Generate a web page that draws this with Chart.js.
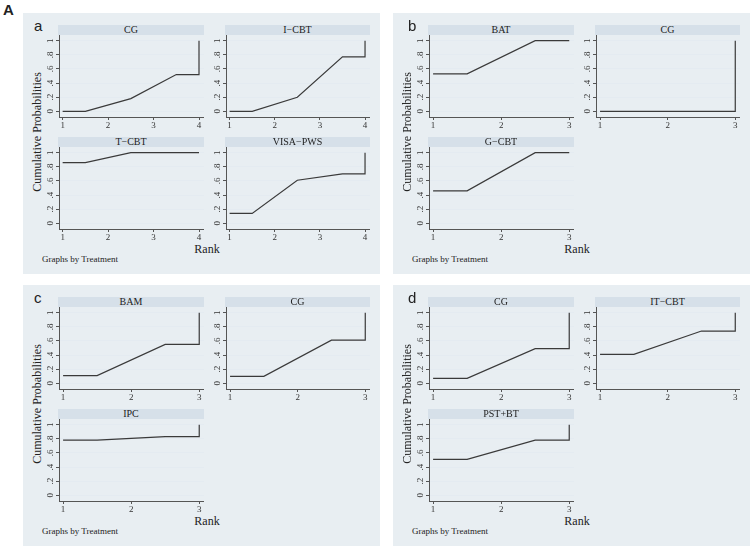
<!DOCTYPE html>
<html>
<head>
<meta charset="utf-8">
<script src="https://cdn.jsdelivr.net/npm/chart.js@4.4.1/dist/chart.umd.min.js"></script>
<style>
body{margin:0;background:#fff;width:753px;height:547px;position:relative;overflow:hidden;font-family:"Liberation Serif",serif;color:#222;}
.panel{position:absolute;background:#e8eef2;width:357px;height:261px;}
.strip{position:absolute;background:#d6e0e9;font-size:10px;line-height:10px;text-align:center;}
.sub{position:absolute;}
.ytitle{position:absolute;left:-86px;top:111px;width:200px;height:16px;line-height:16px;font-size:12px;text-align:center;transform:rotate(-90deg);}
.rank{position:absolute;left:164px;top:228px;width:40px;font-size:12px;line-height:16px;text-align:center;}
.byline{position:absolute;left:19px;top:240px;font-size:9px;line-height:12px;}
.letter{position:absolute;top:4px;font-family:"Liberation Sans",sans-serif;font-size:15px;line-height:18px;}
.bigA{position:absolute;left:3px;top:1px;font-family:"Liberation Sans",sans-serif;font-weight:bold;font-size:15px;line-height:18px;}
</style>
</head>
<body>
<div class="bigA">A</div>
<script>
// cumulative ranking probabilities (rank 1 .. n)
const ranks4 = [1, 2, 3, 4];
const ranks3 = [1, 2, 3];
const yTicks = [0, 0.2, 0.4, 0.6, 0.8, 1];

const namesA = ['CG', 'I\u2212CBT', 'T\u2212CBT', 'VISA\u2212PWS'];
const aCG   = [0.00, 0.18, 0.52, 1];
const aICBT = [0.00, 0.20, 0.77, 1];
const aTCBT = [0.86, 1.00, 1.00, 1];
const aVISA = [0.14, 0.61, 0.70, 1];

const namesB = ['BAT', 'CG', 'G\u2212CBT'];
const bBAT  = [0.53, 1.00, 1];
const bCG   = [0.00, 0.00, 1];
const bGCBT = [0.46, 1.00, 1];

const namesC = ['BAM', 'CG', 'IPC'];
const cBAM = [0.11, 0.55, 1];
const cCG  = [0.10, 0.61, 1];
const cIPC = [0.78, 0.83, 1];

const namesD = ['CG', 'IT\u2212CBT', 'PST+BT'];
const dCG    = [0.07, 0.49, 1];
const dITCBT = [0.41, 0.74, 1];
const dPSTBT = [0.51, 0.78, 1];

// stata style step/line: flat to 1.5, midpoints, flat to last rank, jump to 1
function cumPoints(ranks, probs) {
  const n = ranks.length;
  const pts = [{x: ranks[0], y: probs[0]}, {x: ranks[0] + 0.5, y: probs[0]}];
  for (let i = 1; i < n - 1; i++) pts.push({x: ranks[i] + 0.5, y: probs[i]});
  pts.push({x: ranks[n - 1], y: probs[n - 2]});
  pts.push({x: ranks[n - 1], y: probs[n - 1]});
  return pts;
}

function fmtY(v) {
  if (v === 0) return '0';
  if (v === 1) return '1';
  return '.' + Math.round(v * 10);
}

const yLabels = {
  id: 'yLabels',
  afterDraw(chart) {
    const s = chart.scales.y, ctx = chart.ctx;
    ctx.save();
    ctx.font = '9px "Liberation Serif"';
    ctx.fillStyle = '#333';
    ctx.textAlign = 'center';
    ctx.textBaseline = 'middle';
    s.ticks.forEach(t => {
      const y = s.getPixelForValue(t.value);
      ctx.save();
      ctx.translate(s.right - 8.5, y);
      ctx.rotate(-Math.PI / 2);
      ctx.fillText(fmtY(t.value), 0, 0);
      ctx.restore();
    });
    ctx.restore();
  }
};

const cols = [{ax: 36, right: 181}, {ax: 203, right: 347}];
const rows = [{top: 12, sb: 22, axY: 104}, {top: 124, sb: 134, axY: 216}];

function addSub(panel, col, row, name, ranks, probs) {
  const c = cols[col], r = rows[row];
  const strip = document.createElement('div');
  strip.className = 'strip';
  strip.style.left = (c.ax - 1) + 'px';
  strip.style.width = (c.right - c.ax + 1) + 'px';
  strip.style.top = r.top + 'px';
  strip.style.height = (r.sb - r.top) + 'px';
  strip.textContent = name;
  panel.appendChild(strip);

  const w = c.right - c.ax + 26, h = r.axY - r.sb + 16;
  const cv = document.createElement('canvas');
  cv.className = 'sub';
  cv.width = w; cv.height = h;
  cv.style.left = (c.ax - 26) + 'px';
  cv.style.top = r.sb + 'px';
  cv.style.width = w + 'px'; cv.style.height = h + 'px';
  panel.appendChild(cv);

  const n = ranks.length;
  const xMin = n === 4 ? 0.92 : 0.94;
  const xMax = n === 4 ? 4.11 : 3.07;

  new Chart(cv, {
    type: 'scatter',
    data: {
      datasets: [{
        data: cumPoints(ranks, probs),
        showLine: true,
        borderColor: '#3a3a3a',
        borderWidth: 1.2,
        pointRadius: 0,
        tension: 0,
        fill: false
      }]
    },
    options: {
      animation: false,
      responsive: false,
      events: [],
      layout: {padding: 0},
      plugins: {legend: {display: false}, tooltip: {enabled: false}},
      scales: {
        x: {
          type: 'linear', min: xMin, max: xMax,
          afterBuildTicks: s => { s.ticks = ranks.map(v => ({value: v})); },
          afterFit: s => { s.height = 16; },
          grid: {drawOnChartArea: false, drawTicks: true, tickLength: 3, tickColor: '#555'},
          border: {display: true, color: '#555', width: 1},
          ticks: {font: {family: 'Liberation Serif', size: 9}, color: '#333', padding: 0, maxRotation: 0, autoSkip: false}
        },
        y: {
          min: -0.08, max: 1.08,
          afterBuildTicks: s => { s.ticks = yTicks.map(v => ({value: v})); },
          afterFit: s => { s.width = 26; },
          grid: {color: '#e4ebf1', lineWidth: 1, drawTicks: true, tickLength: 3, tickColor: '#555'},
          border: {display: true, color: '#555', width: 1},
          ticks: {display: false}
        }
      }
    },
    plugins: [yLabels]
  });
}

function addPanel(left, top, letter, letterX) {
  const p = document.createElement('div');
  p.className = 'panel';
  p.style.left = left + 'px';
  p.style.top = top + 'px';
  p.innerHTML = '<div class="letter" style="left:' + letterX + 'px">' + letter + '</div>' +
    '<div class="ytitle">Cumulative Probabilities</div>' +
    '<div class="rank">Rank</div>' +
    '<div class="byline">Graphs by Treatment</div>';
  document.body.appendChild(p);
  return p;
}

const pa = addPanel(23, 13, 'a', 11);
addSub(pa, 0, 0, namesA[0], ranks4, aCG);
addSub(pa, 1, 0, namesA[1], ranks4, aICBT);
addSub(pa, 0, 1, namesA[2], ranks4, aTCBT);
addSub(pa, 1, 1, namesA[3], ranks4, aVISA);

const pb = addPanel(393, 13, 'b', 15);
addSub(pb, 0, 0, namesB[0], ranks3, bBAT);
addSub(pb, 1, 0, namesB[1], ranks3, bCG);
addSub(pb, 0, 1, namesB[2], ranks3, bGCBT);

const pc = addPanel(23, 285, 'c', 11);
addSub(pc, 0, 0, namesC[0], ranks3, cBAM);
addSub(pc, 1, 0, namesC[1], ranks3, cCG);
addSub(pc, 0, 1, namesC[2], ranks3, cIPC);

const pd = addPanel(393, 285, 'd', 15);
addSub(pd, 0, 0, namesD[0], ranks3, dCG);
addSub(pd, 1, 0, namesD[1], ranks3, dITCBT);
addSub(pd, 0, 1, namesD[2], ranks3, dPSTBT);
</script>
</body>
</html>
